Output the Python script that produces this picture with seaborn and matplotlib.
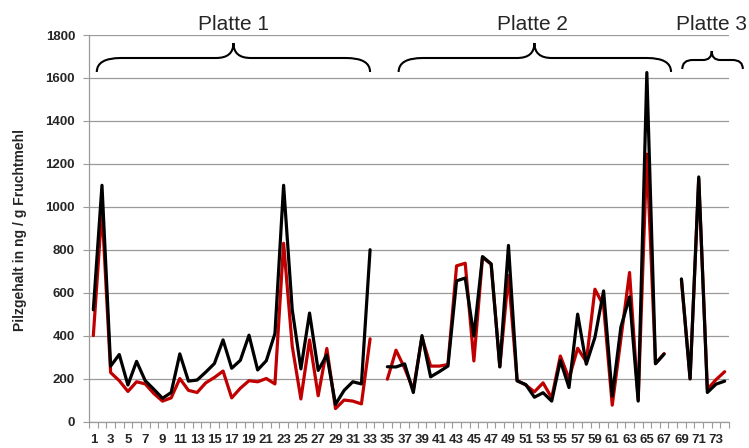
import numpy as np
import pandas as pd
import matplotlib
matplotlib.use("Agg")
import matplotlib.pyplot as plt
from matplotlib.path import Path
from matplotlib.patches import PathPatch
from matplotlib.transforms import blended_transform_factory
import seaborn as sns

# Sample numbers 1..74; 34 and 68 separate the three plates
nan = np.nan
sample = list(range(1, 75))

# Fungal content (ng / g fruit flour), method A (black)
black = [520, 1100, 258, 312, 170, 280, 190, 150, 108, 135, 315, 188, 193, 230, 270, 380, 248, 285, 402, 240,
         283, 410, 1100, 520, 245, 505, 238, 310, 80, 145, 185, 175, 800,
         nan,
         255, 254, 268, 135, 400, 208, 232, 258, 655, 668, 398, 768, 734, 254, 820, 189, 172, 113, 134, 95,
         284, 158, 500, 267, 392, 608, 118, 440, 580, 95, 1625, 269, 314,
         nan,
         664, 198, 1139, 135, 174, 188]

# Fungal content (ng / g fruit flour), method B (red)
red = [400, 990, 228, 190, 140, 185, 175, 130, 95, 110, 200, 145, 135, 180, 205, 235, 110, 155, 190, 185,
       200, 175, 830, 350, 105, 380, 120, 340, 60, 100, 95, 82, 385,
       nan,
       197, 332, 248, 148, 392, 258, 258, 265, 725, 737, 282, 765, 732, 256, 680, 191, 170, 138, 180, 110,
       305, 200, 341, 278, 616, 538, 76, 385, 694, 100, 1245, 270, 316,
       nan,
       660, 200, 1130, 150, 195, 232]

plates = ["Platte 1", "Platte 2", "Platte 3"]
plate_ranges = [(1, 33), (35, 67), (69, 74)]
y_ticks = list(range(0, 2000, 200))
x_labels = [str(n) for n in range(1, 75, 2)]

df = pd.DataFrame({"Probe": sample, "schwarz": black, "rot": red})

sns.set_theme(style="white")
plt.rcParams["font.family"] = ["Liberation Sans", "DejaVu Sans"]

W, H = 749, 448
fig = plt.figure(figsize=(W / 100, H / 100), dpi=100)
ax = fig.add_axes([89 / W, 1 - 421.5 / H, 640 / W, 386.5 / H])

grid_col = "#9a9a9a"
for lo, hi in plate_ranges:
    seg = df[(df["Probe"] >= lo) & (df["Probe"] <= hi)]
    sns.lineplot(data=seg, x="Probe", y="rot", color="#c00000", linewidth=2.3,
                 estimator=None, sort=False, ax=ax, zorder=3)
    sns.lineplot(data=seg, x="Probe", y="schwarz", color="black", linewidth=2.3,
                 estimator=None, sort=False, ax=ax, zorder=4)

ax.set_xlim(0.5, 74.5)
ax.set_ylim(0, 1800)
ax.set_yticks(y_ticks)
ax.set_yticklabels([str(v) for v in y_ticks], fontsize=9.5, fontweight="bold")
ax.yaxis.grid(True, color=grid_col, linewidth=0.9)
ax.set_axisbelow(True)

ax.set_xticks(range(1, 75, 2))
ax.set_xticklabels(x_labels, fontsize=9.5, fontweight="bold")
ax.set_xticks(np.arange(0.5, 75, 1), minor=True)
ax.tick_params(axis="x", which="major", length=0, pad=9)
ax.tick_params(axis="x", which="minor", length=4, width=0.8, color=grid_col, direction="out", bottom=True)
ax.tick_params(axis="y", length=4, width=0.8, color=grid_col, direction="out", left=True, pad=6)

for side in ["top", "right"]:
    ax.spines[side].set_visible(False)
for side in ["left", "bottom"]:
    ax.spines[side].set_color(grid_col)
    ax.spines[side].set_linewidth(0.9)

ax.set_xlabel("")
ax.set_ylabel("Pilzgehalt in ng / g Fruchtmehl", fontsize=10, fontweight="bold")
ax.yaxis.set_label_coords(-0.097, 0.495)

# Curly braces over each plate (x in sample units, y in figure pixels from top)
trans = blended_transform_factory(ax.transData, fig.transFigure)


def brace(x0, x1, xm, y_end, y_mid, y_tip, r_end, r_tip):
    fy = lambda y: 1 - y / H
    verts = [
        (x0, fy(y_end)),
        (x0, fy(y_mid)), (x0 + r_end, fy(y_mid)),
        (xm - r_tip, fy(y_mid)),
        (xm, fy(y_mid)), (xm, fy(y_tip)),
        (xm, fy(y_mid)), (xm + r_tip, fy(y_mid)),
        (x1 - r_end, fy(y_mid)),
        (x1, fy(y_mid)), (x1, fy(y_end)),
    ]
    codes = [Path.MOVETO,
             Path.CURVE3, Path.CURVE3,
             Path.LINETO,
             Path.CURVE3, Path.CURVE3,
             Path.CURVE3, Path.CURVE3,
             Path.LINETO,
             Path.CURVE3, Path.CURVE3]
    patch = PathPatch(Path(verts, codes), transform=trans, facecolor="none",
                      edgecolor="black", linewidth=1.5, clip_on=False)
    fig.add_artist(patch)


brace(1.4, 33.0, 17.2, 72, 58, 43, r_end=2.8, r_tip=2.0)
brace(36.3, 67.8, 52.0, 72, 58, 43, r_end=2.8, r_tip=2.0)
brace(69.1, 76.1, 72.5, 69, 60, 51, r_end=1.2, r_tip=1.0)

for name, xpix in zip(plates, [233.5, 532.5, 711]):
    fig.text(xpix / W, 1 - 29.5 / H, name, ha="center", va="baseline", fontsize=15)

fig.savefig("out.png", dpi=100)
